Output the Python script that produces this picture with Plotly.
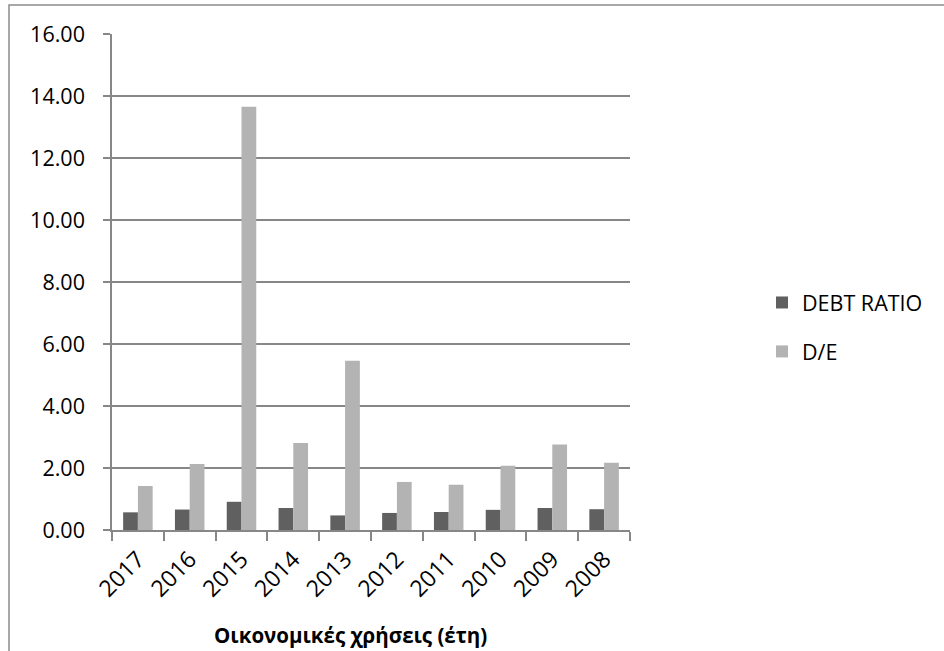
import plotly.graph_objects as go

# Financial years (most recent first) and the two leverage ratios
years = ["2017", "2016", "2015", "2014", "2013", "2012", "2011", "2010", "2009", "2008"]
debt_ratio = [0.57, 0.66, 0.91, 0.71, 0.47, 0.55, 0.58, 0.65, 0.71, 0.67]
debt_to_equity = [1.42, 2.13, 13.65, 2.81, 5.46, 1.55, 1.46, 2.07, 2.76, 2.17]
y_ticks = [0, 2, 4, 6, 8, 10, 12, 14, 16]

FONT = "Open Sans"
GRID = "#878787"

W, H = 944, 651
L, R, T, B = 112, 314, 34, 121
pw, ph = W - L - R, H - T - B


def px_to_paper_x(px):
    return (px - L) / pw


def px_to_paper_y(py):
    return (H - B - py) / ph


fig = go.Figure()
fig.add_bar(x=years, y=debt_ratio, name="DEBT RATIO", marker_color="#606060",
            marker_line_width=0, legendgroup="a")
fig.add_bar(x=years, y=debt_to_equity, name="D/E", marker_color="#b3b3b3",
            marker_line_width=0, legendgroup="b")

fig.update_layout(
    width=W, height=H,
    margin=dict(l=L, r=R, t=T, b=B),
    paper_bgcolor="white", plot_bgcolor="white",
    font=dict(family=FONT, size=21, color="black"),
    barmode="group", bargap=0.43, bargroupgap=0,
    showlegend=True,
    legend=dict(x=px_to_paper_x(762), y=px_to_paper_y(282), xanchor="left", yanchor="top",
                font=dict(family=FONT, size=21.5), tracegroupgap=18,
                bgcolor="rgba(0,0,0,0)"),
    xaxis=dict(
        type="category", tickson="boundaries", ticks="outside", ticklen=9,
        tickcolor=GRID, tickwidth=1.5, tickangle=-45,
        showline=True, linecolor=GRID, linewidth=1.5,
        showgrid=False, tickfont=dict(family=FONT, size=23),
        ticklabelstandoff=5,
    ),
    yaxis=dict(
        range=[0, 16], tickvals=y_ticks, tickformat=".2f",
        ticks="outside", ticklen=7, tickcolor=GRID, tickwidth=1.5,
        showline=True, linecolor=GRID, linewidth=1.5,
        showgrid=True, gridcolor=GRID, gridwidth=1.5,
        zeroline=False, ticklabelstandoff=14,
        tickfont=dict(family=FONT, size=21.5),
    ),
    annotations=[dict(
        text="<b>Οικονομικές χρήσεις (έτη)</b>", xref="paper", yref="paper",
        x=px_to_paper_x(350), y=px_to_paper_y(635), xanchor="center", yanchor="middle",
        showarrow=False, font=dict(family=FONT, size=20.5, color="black"),
    )],
    shapes=[dict(
        type="rect", xref="paper", yref="paper",
        x0=px_to_paper_x(9), x1=px_to_paper_x(960),
        y0=px_to_paper_y(670), y1=px_to_paper_y(5),
        line=dict(color="#8c8c8c", width=1.5), fillcolor="rgba(0,0,0,0)", layer="below",
    )],
)

fig.write_html("out.html")
